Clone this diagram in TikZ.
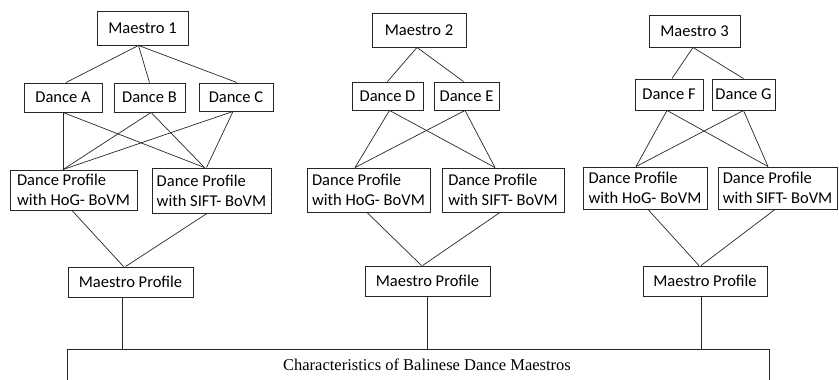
\documentclass[tikz,border=0pt]{standalone}
\usepackage{fontspec}
\setmainfont{Carlito}
\newfontfamily\serifcap{Liberation Serif}
\begin{document}
\begin{tikzpicture}[x=1pt,y=-1pt,
  box/.style={draw=black!85, line width=0.9pt, inner sep=0pt, align=left,
    font=\fontsize{16.5}{20}\selectfont},
  link/.style={draw=black!85, line width=0.7pt}]
\useasboundingbox (0,0) rectangle (839,380);
% ---- block 1
\node[box, minimum width=91, minimum height=34] (m1) at (142.5,28) {Maestro 1};
\node[box, minimum width=78, minimum height=29] (dA) at (63,97.5) {Dance A};
\node[box, minimum width=71, minimum height=29] (dB) at (149.5,97.5) {Dance B};
\node[box, minimum width=74, minimum height=28] (dC) at (236,97) {Dance C};
\node[box, minimum width=127, minimum height=40] (h1) at (73.5,190) {Dance Profile\\with HoG- BoVM};
\node[box, minimum width=119, minimum height=45] (s1) at (211.5,190.5) {Dance Profile\\with SIFT- BoVM};
\node[box, minimum width=125, minimum height=30] (p1) at (130.5,282) {Maestro Profile};
% ---- block 2
\node[box, minimum width=94, minimum height=34] (m2) at (419,30) {Maestro 2};
\node[box, minimum width=71, minimum height=28] (dD) at (387.5,96) {Dance D};
\node[box, minimum width=65, minimum height=28] (dE) at (466.5,96) {Dance E};
\node[box, minimum width=123, minimum height=44] (h2) at (368.5,190) {Dance Profile\\with HoG- BoVM};
\node[box, minimum width=122, minimum height=44] (s2) at (503,190) {Dance Profile\\with SIFT- BoVM};
\node[box, minimum width=125, minimum height=30] (p2) at (427.5,281) {Maestro Profile};
% ---- block 3
\node[box, minimum width=91, minimum height=32] (m3) at (694.5,31) {Maestro 3};
\node[box, minimum width=68, minimum height=31] (dF) at (669,94.5) {Dance F};
\node[box, minimum width=63, minimum height=31] (dG) at (743.5,94.5) {Dance G};
\node[box, minimum width=124, minimum height=42] (h3) at (645,188) {Dance Profile\\with HoG- BoVM};
\node[box, minimum width=119, minimum height=42] (s3) at (777.5,188) {Dance Profile\\with SIFT- BoVM};
\node[box, minimum width=124, minimum height=30] (p3) at (705,281) {Maestro Profile};
% ---- bottom box
\coordinate (btl) at (67,349);
\coordinate (btr) at (769,349);
\coordinate (bbl) at (67,382);
\coordinate (bbr) at (769,382);
\node[font=\serifcap\fontsize{16.5}{20}\selectfont, inner sep=0pt] (chr) at (427,365) {Characteristics of Balinese Dance Maestros};
\draw[draw=black!85, line width=0.9pt] (bbl) -- (btl) -- (btr) -- (bbr);
% ---- connectors block 1
\draw[link] ([xshift=-4pt]m1.south) -- ([xshift=3pt]dA.north);
\draw[link] ([xshift=-4pt]m1.south) -- (dB.north);
\draw[link] ([xshift=-4pt]m1.south) -- ([xshift=1pt]dC.north);
\draw[link] (dA.south) -- ([xshift=-10.5pt]h1.north);
\draw[link] (dA.south) -- ([xshift=-7pt]s1.north);
\draw[link] ([xshift=1.5pt]dB.south) -- ([xshift=-10.5pt]h1.north);
\draw[link] ([xshift=1.5pt]dB.south) -- ([xshift=-7pt]s1.north);
\draw[link] ([xshift=-3pt]dC.south) -- ([xshift=-10.5pt]h1.north);
\draw[link] ([xshift=-3pt]dC.south) -- ([xshift=-5pt]s1.north);
\draw[link] ([xshift=-1.5pt]h1.south) -- ([xshift=-7pt]p1.north);
\draw[link] ([xshift=-4.5pt]s1.south) -- ([xshift=-5pt]p1.north);
\draw[link] ([xshift=-8.5pt]p1.south) -- ([xshift=-8.5pt]p1.south |- btl);
% ---- connectors block 2
\draw[link] ([xshift=-2pt]m2.south) -- (dD.north);
\draw[link] ([xshift=-2pt]m2.south) -- ([xshift=-3pt]dE.north);
\draw[link] ([xshift=2pt]dD.south) -- ([xshift=-13.5pt]h2.north);
\draw[link] ([xshift=2pt]dD.south) -- ([xshift=-8pt]s2.north);
\draw[link] ([xshift=-1.5pt]dE.south) -- ([xshift=-13.5pt]h2.north);
\draw[link] ([xshift=-1.5pt]dE.south) -- ([xshift=-8pt]s2.north);
\draw[link] ([xshift=-1.5pt]h2.south) -- ([xshift=-6pt]p2.north);
\draw[link] ([xshift=-3pt]s2.south) -- ([xshift=-5pt]p2.north);
\draw[link] (p2.south) -- (p2.south |- btl);
% ---- connectors block 3
\draw[link] ([xshift=-1.5pt]m3.south) -- ([xshift=3pt]dF.north);
\draw[link] ([xshift=-1.5pt]m3.south) -- (dG.north);
\draw[link] ([xshift=-2pt]dF.south) -- ([xshift=-9pt]h3.north);
\draw[link] ([xshift=-2pt]dF.south) -- ([xshift=-9.5pt]s3.north);
\draw[link] (dG.south) -- ([xshift=-9pt]h3.north);
\draw[link] (dG.south) -- ([xshift=-9.5pt]s3.north);
\draw[link] ([xshift=3pt]h3.south) -- ([xshift=-6pt]p3.north);
\draw[link] ([xshift=-2.5pt]s3.south) -- ([xshift=-4pt]p3.north);
\draw[link] ([xshift=-4pt]p3.south) -- ([xshift=-4pt]p3.south |- btl);
\end{tikzpicture}
\end{document}
